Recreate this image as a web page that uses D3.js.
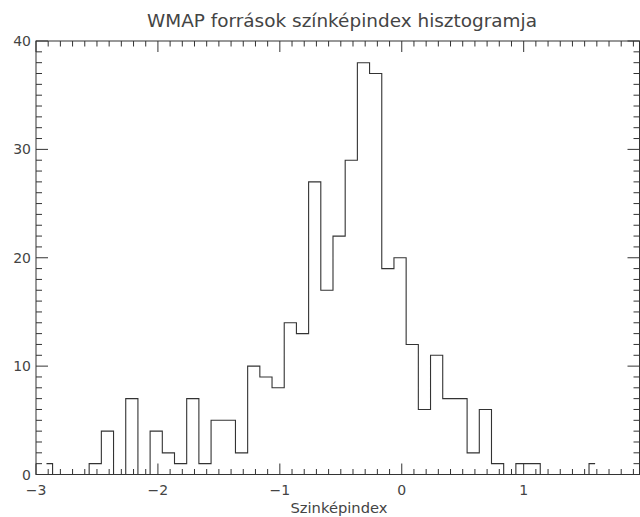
<!DOCTYPE html>
<html><head><meta charset="utf-8">
<script src="https://cdn.jsdelivr.net/npm/d3@7"></script>
<style>body{margin:0;background:#fff}svg{display:block}text{font-family:"DejaVu Sans",sans-serif;fill:#444}</style>
</head><body>
<script>
const binCenters = [-2.914,-2.814,-2.714,-2.614,-2.514,-2.414,-2.314,-2.214,-2.114,-2.014,
  -1.914,-1.814,-1.714,-1.614,-1.514,-1.414,-1.314,-1.214,-1.114,-1.014,
  -0.914,-0.814,-0.714,-0.614,-0.514,-0.414,-0.314,-0.214,-0.114,-0.014,
  0.086,0.186,0.286,0.386,0.486,0.586,0.686,0.786,0.886,0.986,
  1.086,1.186,1.286,1.386,1.486,1.586];
const counts = [1,0,0,0,1,4,0,7,0,4,
  2,1,7,1,5,5,2,10,9,8,
  14,13,27,17,22,29,38,37,19,20,
  12,6,11,7,7,2,6,1,0,1,
  1,0,0,0,0,1];
const xMajorTicks = [-3,-2,-1,0,1];
const xMinorTicks = [-2.9,-2.8,-2.7,-2.6,-2.5,-2.4,-2.3,-2.2,-2.1,-1.9,-1.8,-1.7,-1.6,-1.5,-1.4,-1.3,-1.2,-1.1,
  -0.9,-0.8,-0.7,-0.6,-0.5,-0.4,-0.3,-0.2,-0.1,0.1,0.2,0.3,0.4,0.5,0.6,0.7,0.8,0.9,1.1,1.2,1.3,1.4,1.5,1.6,1.7,1.8,1.9];
const yMajorTicks = [0,10,20,30,40];
const yMinorTicks = [1,2,3,4,5,6,7,8,9,11,12,13,14,15,16,17,18,19,21,22,23,24,25,26,27,28,29,31,32,33,34,35,36,37,38,39];
const title = "WMAP források színképindex hisztogramja";
const xTitle = "Szinképindex";

const W = 640, H = 517;
const x = d3.scaleLinear().domain([-3, 1.95]).range([36, 639.5]);
const y = d3.scaleLinear().domain([0, 40]).range([474.5, 41]);
const svg = d3.select("body").append("svg").attr("width", W).attr("height", H);
const col = "#333";

// frame
svg.append("rect").attr("x", x(-3)).attr("y", y(40)).attr("width", x(1.95) - x(-3)).attr("height", y(0) - y(40))
  .attr("fill", "none").attr("stroke", col).attr("stroke-width", 1);

const g = svg.append("g").attr("stroke", col).attr("stroke-width", 1);
function xt(vals, len) {
  vals.forEach(v => {
    g.append("line").attr("x1", x(v)).attr("x2", x(v)).attr("y1", y(0)).attr("y2", y(0) - len);
    g.append("line").attr("x1", x(v)).attr("x2", x(v)).attr("y1", y(40)).attr("y2", y(40) + len);
  });
}
xt(xMajorTicks, 11); xt(xMinorTicks, 5.5);
function yt(vals, len) {
  vals.forEach(v => {
    g.append("line").attr("x1", x(-3)).attr("x2", x(-3) + len).attr("y1", y(v)).attr("y2", y(v));
    g.append("line").attr("x1", x(1.95)).attr("x2", x(1.95) - len).attr("y1", y(v)).attr("y2", y(v));
  });
}
yt(yMajorTicks, 12); yt(yMinorTicks, 6);

// histogram (IDL psym=10 style)
const line = d3.line().x((d, i) => x(binCenters[i])).y(d => y(d)).curve(d3.curveStep);
svg.append("path").datum(counts).attr("d", line).attr("fill", "none").attr("stroke", col).attr("stroke-width", 1.1);

// labels
svg.selectAll(".xl").data(xMajorTicks).enter().append("text")
  .attr("x", d => x(d)).attr("y", 495).attr("text-anchor", "middle").attr("font-size", 14)
  .text(d => d < 0 ? "\u2212" + Math.abs(d) : d);
svg.selectAll(".yl").data(yMajorTicks).enter().append("text")
  .attr("x", 31).attr("y", d => y(d) + 5).attr("text-anchor", "end").attr("font-size", 14)
  .text(d => d);
svg.append("text").attr("x", 342).attr("y", 27).attr("text-anchor", "middle").attr("font-size", 17)
  .attr("textLength", 390).attr("lengthAdjust", "spacingAndGlyphs").text(title);
svg.append("text").attr("x", 339).attr("y", 513).attr("text-anchor", "middle").attr("font-size", 14)
  .attr("textLength", 97).attr("lengthAdjust", "spacingAndGlyphs").text(xTitle);
</script>
</body></html>
